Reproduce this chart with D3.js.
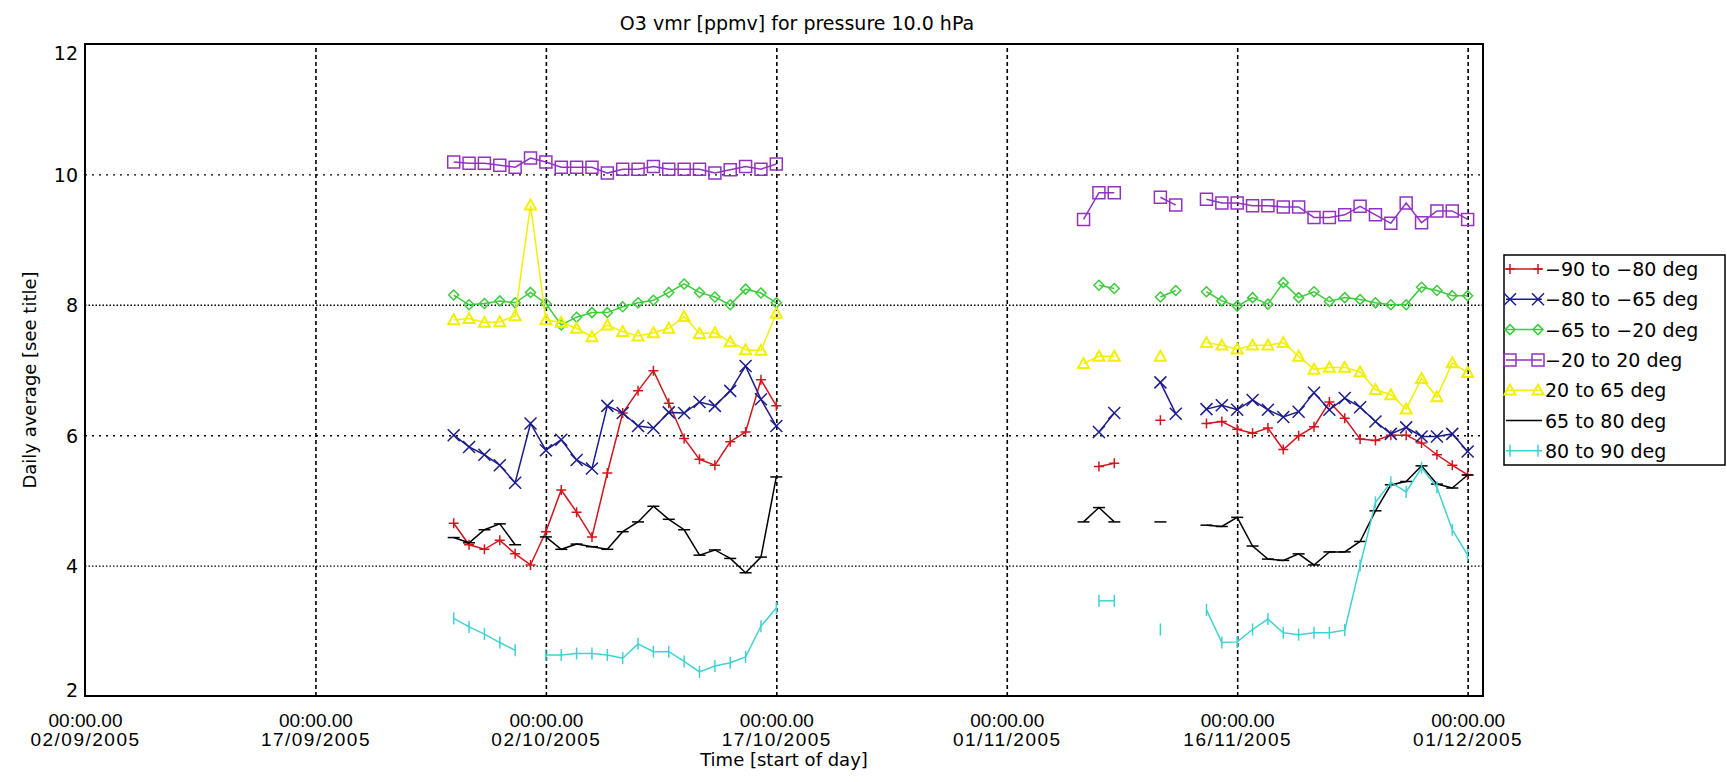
<!DOCTYPE html>
<html>
<head>
<meta charset="utf-8">
<script src="https://cdn.jsdelivr.net/npm/d3@7"></script>
<style>
  body { margin: 0; background: #fff; }
  svg { display: block; font-family: "DejaVu Sans", sans-serif; }
</style>
</head>
<body>
<div id="chart"></div>
<script>
// Days with at least one value: 26/09 - 17/10 and 06/11 - 01/12 (2005)
const dates = [
  "2005-09-26", "2005-09-27", "2005-09-28", "2005-09-29", "2005-09-30", "2005-10-01",
  "2005-10-02", "2005-10-03", "2005-10-04", "2005-10-05", "2005-10-06", "2005-10-07",
  "2005-10-08", "2005-10-09", "2005-10-10", "2005-10-11", "2005-10-12", "2005-10-13",
  "2005-10-14", "2005-10-15", "2005-10-16", "2005-10-17",
  "2005-11-06", "2005-11-07", "2005-11-08", "2005-11-11", "2005-11-12",
  "2005-11-14", "2005-11-15", "2005-11-16", "2005-11-17", "2005-11-18", "2005-11-19",
  "2005-11-20", "2005-11-21", "2005-11-22", "2005-11-23", "2005-11-24", "2005-11-25",
  "2005-11-26", "2005-11-27", "2005-11-28", "2005-11-29", "2005-11-30", "2005-12-01"
];

const seriesNames = [
  "\u221290 to \u221280 deg", "\u221280 to \u221265 deg", "\u221265 to \u221220 deg",
  "\u221220 to 20 deg", "20 to 65 deg", "65 to 80 deg", "80 to 90 deg"
];

const lat9080S = [
  4.65, 4.32, 4.25, 4.39, 4.18, 4.01, 4.52, 5.16, 4.82, 4.44, 5.42, 6.34, 6.68, 6.99, 6.49, 5.95, 5.63, 5.54, 5.90, 6.05, 6.85, 6.45,
  null, 5.52, 5.57, 6.23, null, 6.18, 6.21, 6.09, 6.03, 6.11, 5.78, 5.99, 6.13, 6.51, 6.26, 5.94, 5.92, 6.00, 6.00, 5.88, 5.70, 5.54, 5.39
];
const lat8065S = [
  6.00, 5.82, 5.70, 5.54, 5.27, 6.18, 5.77, 5.93, 5.62, 5.49, 6.45, 6.34, 6.14, 6.11, 6.35, 6.34, 6.51, 6.45, 6.68, 7.06, 6.55, 6.14,
  null, 6.05, 6.34, 6.81, 6.33, 6.40, 6.46, 6.39, 6.54, 6.39, 6.28, 6.36, 6.65, 6.39, 6.57, 6.43, 6.21, 6.02, 6.12, 5.98, 5.98, 6.02, 5.75
];
const lat6520S = [
  8.15, 8.00, 8.02, 8.06, 8.03, 8.19, 8.02, 7.69, 7.81, 7.88, 7.88, 7.97, 8.03, 8.07, 8.19, 8.32, 8.19, 8.12, 8.00, 8.24, 8.18, 8.03,
  null, 8.30, 8.25, 8.12, 8.22, 8.20, 8.06, 7.98, 8.11, 8.01, 8.34, 8.11, 8.20, 8.05, 8.11, 8.08, 8.03, 8.00, 8.00, 8.27, 8.22, 8.14, 8.14
];
const lat2020 = [
  10.19, 10.17, 10.17, 10.14, 10.11, 10.25, 10.19, 10.11, 10.11, 10.11, 10.02, 10.08, 10.08, 10.12, 10.08, 10.08, 10.08, 10.02, 10.07, 10.12, 10.08, 10.16,
  9.31, 9.72, 9.72, 9.65, 9.53, 9.62, 9.56, 9.56, 9.52, 9.52, 9.50, 9.50, 9.34, 9.34, 9.38, 9.51, 9.38, 9.25, 9.56, 9.26, 9.44, 9.44, 9.31
];
const lat2065N = [
  7.77, 7.79, 7.73, 7.74, 7.83, 9.53, 7.77, 7.73, 7.64, 7.51, 7.69, 7.59, 7.52, 7.57, 7.64, 7.82, 7.56, 7.57, 7.43, 7.31, 7.30, 7.87,
  7.10, 7.21, 7.21, 7.21, null, 7.42, 7.38, 7.32, 7.38, 7.38, 7.42, 7.21, 7.01, 7.04, 7.04, 6.97, 6.70, 6.62, 6.40, 6.87, 6.59, 7.11, 6.96
];
const lat6580N = [
  4.43, 4.35, 4.55, 4.64, 4.32, null, 4.44, 4.25, 4.33, 4.29, 4.25, 4.52, 4.67, 4.91, 4.71, 4.55, 4.16, 4.24, 4.11, 3.89, 4.13, 5.36,
  4.67, 4.89, 4.67, 4.67, null, 4.62, 4.60, 4.74, 4.30, 4.10, 4.08, 4.18, 4.01, 4.21, 4.21, 4.37, 4.84, 5.24, 5.29, 5.53, 5.25, 5.19, 5.39
];
const lat8090N = [
  3.19, 3.06, 2.95, 2.82, 2.70, null, 2.63, 2.63, 2.65, 2.65, 2.63, 2.58, 2.80, 2.68, 2.68, 2.53, 2.37, 2.46, 2.51, 2.60, 3.07, 3.35,
  null, 3.46, 3.46, 3.02, null, 3.32, 2.82, 2.83, 3.02, 3.18, 2.97, 2.94, 2.97, 2.97, 3.01, 4.00, 4.97, 5.28, 5.13, 5.50, 5.20, 4.55, 4.16
];

const xDomain = ["2005-09-02", "2005-12-02"];
const xTicks = ["2005-09-02", "2005-09-17", "2005-10-02", "2005-10-17", "2005-11-01", "2005-11-16", "2005-12-01"];
const yTicks = [2, 4, 6, 8, 10, 12];

const allSeries = [lat9080S, lat8065S, lat6520S, lat2020, lat2065N, lat6580N, lat8090N];
const colors = ["#d3141c", "#1c1c8e", "#3ccc3c", "#9232c4", "#f2f000", "#000000", "#3fd2d2"];
const markers = ["plus", "times", "diamond", "square", "triangle", "hbar", "vbar"];

const parseDate = d3.utcParse("%Y-%m-%d");
const width = 1727, height = 782;
const plot = { left: 85, right: 1483, top: 44, bottom: 696 };

const svg = d3.select("#chart").append("svg")
  .attr("width", width)
  .attr("height", height);

const x = d3.scaleUtc()
  .domain(xDomain.map(parseDate))
  .range([plot.left, plot.right]);

const y = d3.scaleLinear()
  .domain([2, 12])
  .range([plot.bottom, plot.top]);

// Marker shapes drawn as stroked paths (IDL style symbols)
function markerPath(type, s) {
  switch (type) {
    case "plus": return `M${-s},0H${s}M0,${-s}V${s}`;
    case "times": return `M${-s},${-s}L${s},${s}M${-s},${s}L${s},${-s}`;
    case "diamond": return `M0,${-s}L${s},0L0,${s}L${-s},0Z`;
    case "square": return `M${-s},${-s}H${s}V${s}H${-s}Z`;
    case "triangle": return `M0,${-s}L${s},${s * 0.8}H${-s}Z`;
    case "hbar": return `M${-s},0H${s}`;
    case "vbar": return `M0,${-s}V${s}`;
  }
}
const markerSize = { plus: 5, times: 6, diamond: 5, square: 6, triangle: 5.5, hbar: 6, vbar: 6 };

// Grid: horizontal dotted lines
svg.append("g")
  .attr("transform", `translate(${plot.left},0)`)
  .call(d3.axisLeft(y).tickValues(yTicks.slice(1, -1)).tickSize(-(plot.right - plot.left)).tickFormat(""))
  .call((g) => g.select(".domain").remove())
  .selectAll("line")
  .attr("stroke", "#000")
  .attr("stroke-width", 1.4)
  .attr("stroke-dasharray", (d) => (d % 4 === 0 ? "1.5,2" : "2,5"));

// Grid: vertical dashed lines
svg.append("g")
  .attr("transform", `translate(0,${plot.bottom})`)
  .call(d3.axisBottom(x).tickValues(xTicks.slice(1).map(parseDate)).tickSize(-(plot.bottom - plot.top)).tickFormat(""))
  .call((g) => g.select(".domain").remove())
  .selectAll("line")
  .attr("stroke", "#000")
  .attr("stroke-width", 1.6)
  .attr("stroke-dasharray", "4,3");

// Split a series into runs of consecutive days
function runs(values) {
  const out = [];
  let cur = [];
  values.forEach((v, i) => {
    const d = parseDate(dates[i]);
    if (v === null) {
      if (cur.length) out.push(cur);
      cur = [];
      return;
    }
    if (cur.length && d - cur[cur.length - 1].date > 1.5 * 864e5) {
      out.push(cur);
      cur = [];
    }
    cur.push({ date: d, value: v });
  });
  if (cur.length) out.push(cur);
  return out;
}

const line = d3.line()
  .x((d) => x(d.date))
  .y((d) => y(d.value));

allSeries.forEach((values, k) => {
  const g = svg.append("g");
  const segs = runs(values);
  g.selectAll("path.line")
    .data(segs)
    .enter()
    .append("path")
    .attr("class", "line")
    .attr("fill", "none")
    .attr("stroke", colors[k])
    .attr("stroke-width", 1.5)
    .attr("d", line);

  g.selectAll("path.mark")
    .data(segs.flat())
    .enter()
    .append("path")
    .attr("class", "mark")
    .attr("transform", (d) => `translate(${x(d.date)},${y(d.value)})`)
    .attr("d", markerPath(markers[k], markerSize[markers[k]]))
    .attr("fill", "none")
    .attr("stroke", colors[k])
    .attr("stroke-width", markers[k] === "triangle" ? 2 : 1.5);
});

// Frame
svg.append("rect")
  .attr("x", plot.left)
  .attr("y", plot.top)
  .attr("width", plot.right - plot.left)
  .attr("height", plot.bottom - plot.top)
  .attr("fill", "none")
  .attr("stroke", "#000")
  .attr("stroke-width", 2);

// Y tick labels (kept inside the frame at the ends, like IDL)
const yAxis = svg.append("g")
  .attr("transform", `translate(${plot.left},0)`)
  .call(d3.axisLeft(y).tickValues(yTicks).tickSize(0).tickPadding(7).tickFormat(d3.format("d")));
yAxis.select(".domain").remove();
yAxis.selectAll("text")
  .attr("font-size", 19)
  .attr("font-family", "DejaVu Sans")
  .attr("fill", "#000")
  .attr("dy", (d) => {
    const c = Math.min(Math.max(y(d), plot.top + 8), plot.bottom - 7);
    return c - y(d) + 7;
  });

// X tick labels, two lines each
const fmtDate = d3.utcFormat("%d/%m/%Y");
const xAxis = svg.append("g")
  .attr("transform", `translate(0,${plot.bottom})`)
  .call(d3.axisBottom(x).tickValues(xTicks.map(parseDate)).tickSize(0).tickFormat(""));
xAxis.select(".domain").remove();
xAxis.selectAll(".tick text").remove();
xAxis.selectAll(".tick").each(function (d) {
  const t = d3.select(this).append("text")
    .attr("text-anchor", "middle")
    .attr("font-size", 19)
    .attr("fill", "#000");
  t.append("tspan").attr("x", 0).attr("y", 31).text("00:00.00");
  t.append("tspan").attr("x", 0).attr("y", 50).attr("letter-spacing", 1.5).text(fmtDate(d));
});

// Titles
svg.append("text")
  .attr("x", (plot.left + plot.right) / 2 + 13)
  .attr("y", 30)
  .attr("text-anchor", "middle")
  .attr("font-size", 19)
  .text("O3 vmr [ppmv] for pressure 10.0 hPa");

svg.append("text")
  .attr("x", (plot.left + plot.right) / 2)
  .attr("y", 766)
  .attr("text-anchor", "middle")
  .attr("font-size", 18)
  .text("Time [start of day]");

svg.append("text")
  .attr("transform", `translate(36,${(plot.top + plot.bottom) / 2 + 10}) rotate(-90)`)
  .attr("text-anchor", "middle")
  .attr("font-size", 18)
  .text("Daily average [see title]");

// Legend
const legend = svg.append("g").attr("transform", "translate(1504,255)");
legend.append("rect")
  .attr("width", 221)
  .attr("height", 210)
  .attr("fill", "#fff")
  .attr("stroke", "#000")
  .attr("stroke-width", 1.5);

seriesNames.forEach((name, k) => {
  const row = legend.append("g").attr("transform", `translate(0,${14 + k * 30.3})`);
  row.append("line")
    .attr("x1", 2).attr("x2", 38)
    .attr("stroke", colors[k])
    .attr("stroke-width", 1.5);
  if (markers[k] !== "hbar") {
    [6, 34].forEach((mx) => {
      row.append("path")
        .attr("transform", `translate(${mx},0)`)
        .attr("d", markerPath(markers[k], markerSize[markers[k]]))
        .attr("fill", "none")
        .attr("stroke", colors[k])
        .attr("stroke-width", markers[k] === "triangle" ? 2 : 1.5);
    });
  }
  row.append("text")
    .attr("x", 41)
    .attr("y", 7)
    .attr("font-size", 19)
    .attr("fill", "#000")
    .text(name);
});
</script>
</body>
</html>
